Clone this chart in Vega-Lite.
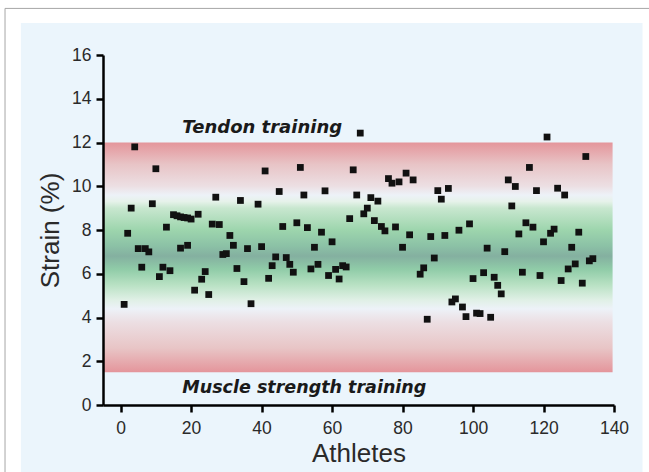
{
  "$schema": "https://vega.github.io/schema/vega-lite/v6.json",
  "width": 511,
  "height": 350,
  "autosize": {"type": "none"},
  "padding": {"left": 103, "top": 55, "right": 35, "bottom": 67},
  "background": "white",
  "config": {"view": {"stroke": null}},
  "datasets": {
    "points": [
      {"athlete": 1, "strain": 4.6}, {"athlete": 2, "strain": 7.85}, {"athlete": 3, "strain": 9.0}, {"athlete": 4, "strain": 11.8},
      {"athlete": 5, "strain": 7.15}, {"athlete": 6, "strain": 6.3}, {"athlete": 7, "strain": 7.15}, {"athlete": 8, "strain": 7.0},
      {"athlete": 9, "strain": 9.2}, {"athlete": 10, "strain": 10.8}, {"athlete": 11, "strain": 5.87}, {"athlete": 12, "strain": 6.3},
      {"athlete": 13, "strain": 8.13}, {"athlete": 14, "strain": 6.14}, {"athlete": 15, "strain": 8.7}, {"athlete": 16, "strain": 8.65},
      {"athlete": 17, "strain": 8.6}, {"athlete": 17, "strain": 7.17}, {"athlete": 18, "strain": 8.57}, {"athlete": 19, "strain": 8.55},
      {"athlete": 19, "strain": 7.3}, {"athlete": 20, "strain": 8.5}, {"athlete": 21, "strain": 5.25}, {"athlete": 22, "strain": 8.72},
      {"athlete": 23, "strain": 5.75}, {"athlete": 24, "strain": 6.1}, {"athlete": 25, "strain": 5.05}, {"athlete": 26, "strain": 8.27},
      {"athlete": 27, "strain": 9.5}, {"athlete": 28, "strain": 8.25}, {"athlete": 29, "strain": 6.88}, {"athlete": 30, "strain": 6.92},
      {"athlete": 31, "strain": 7.75}, {"athlete": 32, "strain": 7.3}, {"athlete": 33, "strain": 6.24}, {"athlete": 34, "strain": 9.35},
      {"athlete": 35, "strain": 5.64}, {"athlete": 36, "strain": 7.15}, {"athlete": 37, "strain": 4.63}, {"athlete": 39, "strain": 9.18},
      {"athlete": 40, "strain": 7.24}, {"athlete": 41, "strain": 10.7}, {"athlete": 42, "strain": 5.79}, {"athlete": 43, "strain": 6.37},
      {"athlete": 44, "strain": 6.77}, {"athlete": 45, "strain": 9.76}, {"athlete": 46, "strain": 8.16}, {"athlete": 47, "strain": 6.74},
      {"athlete": 48, "strain": 6.43}, {"athlete": 49, "strain": 6.07}, {"athlete": 50, "strain": 8.33}, {"athlete": 51, "strain": 10.86},
      {"athlete": 52, "strain": 9.6}, {"athlete": 53, "strain": 8.11}, {"athlete": 54, "strain": 6.22}, {"athlete": 55, "strain": 7.21},
      {"athlete": 56, "strain": 6.43}, {"athlete": 57, "strain": 7.9}, {"athlete": 58, "strain": 9.79}, {"athlete": 59, "strain": 5.92},
      {"athlete": 60, "strain": 7.46}, {"athlete": 61, "strain": 6.2}, {"athlete": 62, "strain": 5.76}, {"athlete": 63, "strain": 6.37},
      {"athlete": 64, "strain": 6.31}, {"athlete": 65, "strain": 8.52}, {"athlete": 66, "strain": 10.75}, {"athlete": 67, "strain": 9.6},
      {"athlete": 68, "strain": 12.43}, {"athlete": 69, "strain": 8.74}, {"athlete": 70, "strain": 9.0}, {"athlete": 71, "strain": 9.48},
      {"athlete": 72, "strain": 8.43}, {"athlete": 73, "strain": 9.32}, {"athlete": 74, "strain": 8.16}, {"athlete": 75, "strain": 7.96},
      {"athlete": 76, "strain": 10.35}, {"athlete": 77, "strain": 10.14}, {"athlete": 78, "strain": 8.14}, {"athlete": 79, "strain": 10.2},
      {"athlete": 80, "strain": 7.21}, {"athlete": 81, "strain": 10.6}, {"athlete": 82, "strain": 7.78}, {"athlete": 83, "strain": 10.29},
      {"athlete": 85, "strain": 5.98}, {"athlete": 86, "strain": 6.27}, {"athlete": 87, "strain": 3.92}, {"athlete": 88, "strain": 7.7},
      {"athlete": 89, "strain": 6.72}, {"athlete": 90, "strain": 9.8}, {"athlete": 91, "strain": 9.41}, {"athlete": 92, "strain": 7.75},
      {"athlete": 93, "strain": 9.9}, {"athlete": 94, "strain": 4.71}, {"athlete": 95, "strain": 4.85}, {"athlete": 96, "strain": 7.99},
      {"athlete": 97, "strain": 4.48}, {"athlete": 98, "strain": 4.04}, {"athlete": 99, "strain": 8.28}, {"athlete": 100, "strain": 5.78},
      {"athlete": 101, "strain": 4.2}, {"athlete": 102, "strain": 4.18}, {"athlete": 103, "strain": 6.05}, {"athlete": 104, "strain": 7.17},
      {"athlete": 105, "strain": 4.01}, {"athlete": 106, "strain": 5.84}, {"athlete": 107, "strain": 5.47}, {"athlete": 108, "strain": 5.08},
      {"athlete": 109, "strain": 7.01}, {"athlete": 110, "strain": 10.29}, {"athlete": 111, "strain": 9.1}, {"athlete": 112, "strain": 9.99},
      {"athlete": 113, "strain": 7.82}, {"athlete": 114, "strain": 6.07}, {"athlete": 115, "strain": 8.33}, {"athlete": 116, "strain": 10.86},
      {"athlete": 117, "strain": 8.13}, {"athlete": 118, "strain": 9.8}, {"athlete": 119, "strain": 5.92}, {"athlete": 120, "strain": 7.46},
      {"athlete": 121, "strain": 12.25}, {"athlete": 122, "strain": 7.85}, {"athlete": 123, "strain": 8.04}, {"athlete": 124, "strain": 9.91},
      {"athlete": 125, "strain": 5.69}, {"athlete": 126, "strain": 9.6}, {"athlete": 127, "strain": 6.22}, {"athlete": 128, "strain": 7.21},
      {"athlete": 129, "strain": 6.45}, {"athlete": 130, "strain": 7.9}, {"athlete": 131, "strain": 5.57}, {"athlete": 132, "strain": 11.36},
      {"athlete": 133, "strain": 6.59}, {"athlete": 134, "strain": 6.69}
    ]
  },
  "layer": [
    {
      "data": {"values": [{}]},
      "mark": {"type": "rect", "fill": "white", "stroke": "#a6a6a6", "strokeWidth": 1, "clip": false},
      "encoding": {
        "x": {"datum": -32.8, "type": "quantitative", "scale": {"domain": [-5, 140], "nice": false, "zero": false}},
        "x2": {"datum": 153},
        "y": {"datum": 18.13, "type": "quantitative", "scale": {"domain": [0, 16], "nice": false, "zero": false}},
        "y2": {"datum": -4}
      }
    },
    {
      "data": {"values": [{}]},
      "mark": {"type": "rect", "fill": "#ebf5fc", "clip": false},
      "encoding": {
        "x": {"datum": -28.3, "type": "quantitative"},
        "x2": {"datum": 148.1},
        "y": {"datum": 17.46, "type": "quantitative"},
        "y2": {"datum": -4}
      }
    },
    {
      "data": {"values": [{}]},
      "mark": {
        "type": "rect",
        "fill": {
          "gradient": "linear", "x1": 0, "y1": 0, "x2": 0, "y2": 1,
          "stops": [
            {"offset": 0, "color": "#e4959b"},
            {"offset": 0.095, "color": "#e8c4c6"},
            {"offset": 0.19, "color": "#ecdfe3"},
            {"offset": 0.229, "color": "#edf2f8"},
            {"offset": 0.257, "color": "#e6f2ea"},
            {"offset": 0.286, "color": "#c8e7cf"},
            {"offset": 0.381, "color": "#9dd5ad"},
            {"offset": 0.448, "color": "#8cc2a6"},
            {"offset": 0.495, "color": "#84b0a0"},
            {"offset": 0.552, "color": "#90cca8"},
            {"offset": 0.619, "color": "#b8e1c3"},
            {"offset": 0.686, "color": "#e0f0e6"},
            {"offset": 0.724, "color": "#edf2f8"},
            {"offset": 0.781, "color": "#ecdfe3"},
            {"offset": 0.895, "color": "#e8c5c6"},
            {"offset": 1, "color": "#e4959b"}
          ]
        }
      },
      "encoding": {
        "x": {"datum": -5, "type": "quantitative"},
        "x2": {"datum": 139.6},
        "y": {"datum": 12, "type": "quantitative"},
        "y2": {"datum": 1.5}
      }
    },
    {
      "data": {"name": "points"},
      "mark": {"type": "point", "shape": "square", "filled": true, "color": "#111111", "opacity": 1, "size": 46, "strokeWidth": 0},
      "encoding": {
        "x": {
          "field": "athlete", "type": "quantitative",
          "axis": {
            "title": "Athletes", "titleFontSize": 26, "titleFont": "Liberation Sans", "titleFontWeight": "normal", "titleColor": "#2a2a2a", "titlePadding": 4,
            "values": [0, 10, 20, 30, 40, 50, 60, 70, 80, 90, 100, 110, 120, 130, 140],
            "labelExpr": "datum.value % 20 === 0 ? datum.label : ''",
            "labelFont": "Liberation Sans", "labelFontSize": 17.5, "labelColor": "#2a2a2a", "labelPadding": 7,
            "domainColor": "black", "domainWidth": 2.5, "tickColor": "black", "tickWidth": 2.5,
            "tickSize": {"condition": {"test": "datum.value % 20 === 0", "value": 7}, "value": 4},
            "grid": false, "zindex": 2, "labelFlush": false, "labelOverlap": false
          }
        },
        "y": {
          "field": "strain", "type": "quantitative",
          "axis": {
            "title": "Strain (%)", "titleFontSize": 26, "titleFont": "Liberation Sans", "titleFontWeight": "normal", "titleColor": "#2a2a2a", "titlePadding": 8,
            "values": [0, 1, 2, 3, 4, 5, 6, 7, 8, 9, 10, 11, 12, 13, 14, 15, 16],
            "labelExpr": "datum.value % 2 === 0 ? datum.label : ''",
            "labelFont": "Liberation Sans", "labelFontSize": 17.5, "labelColor": "#2a2a2a", "labelPadding": 5,
            "domainColor": "black", "domainWidth": 2.5, "tickColor": "black", "tickWidth": 2.5,
            "tickSize": {"condition": {"test": "datum.value % 2 === 0", "value": 7}, "value": 4},
            "grid": false, "zindex": 2, "labelFlush": false, "labelOverlap": false
          }
        }
      }
    },
    {
      "data": {"values": [{}]},
      "mark": {"type": "text", "text": "Tendon training", "font": "DejaVu Sans", "fontStyle": "italic", "fontWeight": "bold", "fontSize": 18, "color": "#1a1a1a", "align": "left", "baseline": "middle"},
      "encoding": {
        "x": {"datum": 17.5, "type": "quantitative"},
        "y": {"datum": 12.66, "type": "quantitative"}
      }
    },
    {
      "data": {"values": [{}]},
      "mark": {"type": "text", "text": "Muscle strength training", "font": "DejaVu Sans", "fontStyle": "italic", "fontWeight": "bold", "fontSize": 17.5, "color": "#1a1a1a", "align": "left", "baseline": "middle"},
      "encoding": {
        "x": {"datum": 17.5, "type": "quantitative"},
        "y": {"datum": 0.78, "type": "quantitative"}
      }
    }
  ]
}
